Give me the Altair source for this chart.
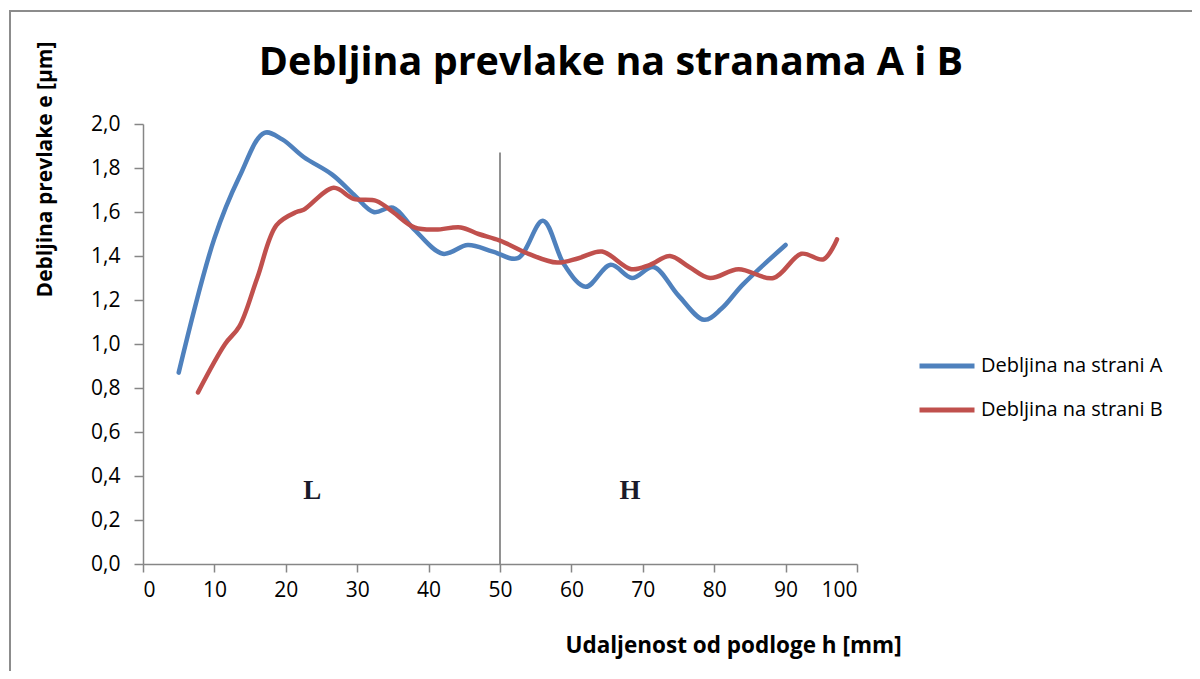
import altair as alt
import pandas as pd

# Series A (blue)
a_x = [5, 10, 13.5, 17, 19.5, 22.5, 26.5, 29.5, 32.3, 35, 38, 42, 45.5, 49, 52.5, 56, 59, 62, 65.5, 68.5, 71.5, 75, 78.6, 81, 84, 90]
a_y = [0.87, 1.48, 1.76, 1.96, 1.93, 1.85, 1.77, 1.68, 1.60, 1.62, 1.52, 1.41, 1.45, 1.42, 1.39, 1.56, 1.36, 1.26, 1.36, 1.30, 1.35, 1.22, 1.11, 1.16, 1.27, 1.45]
# Series B (red)
b_x = [7.7, 11.5, 13.5, 16, 18.7, 21.5, 22.5, 26.7, 29.5, 32.7, 35, 38, 41, 44.5, 47, 50, 54, 58, 61, 64.3, 68.4, 71, 73.8, 76.5, 79.4, 83.4, 88.3, 92.2, 95.3, 97.2]
b_y = [0.78, 1.00, 1.08, 1.30, 1.54, 1.60, 1.61, 1.71, 1.66, 1.65, 1.60, 1.53, 1.52, 1.53, 1.50, 1.47, 1.41, 1.37, 1.39, 1.42, 1.34, 1.36, 1.40, 1.35, 1.30, 1.34, 1.30, 1.41, 1.385, 1.476]

series_names = ["Debljina na strani A", "Debljina na strani B"]
series_colors = ["#4F81BD", "#C0504D"]

region_labels = ["L", "H"]
region_x = [23.7, 68.2]
region_y = [0.33, 0.33]

divider_x = [50]
divider_top = [1.87]

title_text = "Debljina prevlake na stranama A i B"

rows = []
for i, (x, y) in enumerate(zip(a_x, a_y)):
    rows.append({"h": x, "e": y, "serija": series_names[0], "o": i})
for i, (x, y) in enumerate(zip(b_x, b_y)):
    rows.append({"h": x, "e": y, "serija": series_names[1], "o": i})
df = pd.DataFrame(rows)

FONT = "Open Sans"
AXIS_GRAY = "#868686"

xscale = alt.Scale(domain=[0, 100], nice=False, zero=False)
yscale = alt.Scale(domain=[0, 2.0], nice=False)

lines = alt.Chart(df).mark_line(strokeWidth=4.5, interpolate="catmull-rom", strokeCap="round").encode(
    x=alt.X("h:Q", scale=xscale,
            axis=alt.Axis(values=list(range(0, 101, 10)), title="Udaljenost od podloge h [mm]",
                          titleX=590, titleY=81, titleAlign="center", titleBaseline="middle",
                          titleFont=FONT, titleFontSize=22.5, titleFontWeight="bold", titleColor="#000",
                          labelFont=FONT, labelFontSize=21, labelColor="#000", labelPadding=7,
                          tickSize=8, tickColor=AXIS_GRAY, tickWidth=1.5, domainColor=AXIS_GRAY,
                          domainWidth=1.5, grid=False)),
    y=alt.Y("e:Q", scale=yscale,
            axis=alt.Axis(values=[0, 0.2, 0.4, 0.6, 0.8, 1.0, 1.2, 1.4, 1.6, 1.8, 2.0],
                          labelExpr="replace(format(datum.value, '.1f'), '.', ',')",
                          title="Debljina prevlake e [µm]",
                          titleX=-98, titleY=45, titleAngle=270, titleAlign="center", titleBaseline="middle",
                          titleFont=FONT, titleFontSize=21, titleFontWeight="bold", titleColor="#000",
                          labelFont=FONT, labelFontSize=21, labelColor="#000", labelPadding=14,
                          tickSize=9, tickColor=AXIS_GRAY, tickWidth=1.5, domainColor=AXIS_GRAY,
                          domainWidth=1.5, grid=False)),
    color=alt.Color("serija:N", scale=alt.Scale(domain=series_names, range=series_colors),
                    legend=alt.Legend(title=None, orient="none", legendX=774, legendY=212,
                                      symbolType="stroke", symbolSize=3025, symbolStrokeWidth=5,
                                      labelFont=FONT, labelFontSize=20, labelColor="#000", labelLimit=0,
                                      labelOffset=4, rowPadding=4, padding=0)),
    order="o:Q",
)

div_df = pd.DataFrame({"h": divider_x, "top": divider_top, "bot": [0]})
divider = alt.Chart(div_df).mark_rule(color=AXIS_GRAY, strokeWidth=1.8).encode(
    x="h:Q", y="bot:Q", y2="top:Q"
)

lab_df = pd.DataFrame({"h": region_x, "e": region_y, "t": region_labels})
labels = alt.Chart(lab_df).mark_text(font="Liberation Serif", fontSize=27, fontWeight="bold",
                                     color="#1a1a2a", align="center", baseline="middle").encode(
    x="h:Q", y="e:Q", text="t:N"
)

border = alt.Chart(pd.DataFrame({"k": [0]})).mark_rect(fill=None, stroke="#8c8c8c", strokeWidth=2).encode(
    x=alt.value(-133), x2=alt.value(1200), y=alt.value(-113), y2=alt.value(700)
)

title = alt.Chart(pd.DataFrame({"t": [title_text]})).mark_text(
    font=FONT, fontSize=39.5, fontWeight="bold", color="#000", align="center", baseline="alphabetic"
).encode(x=alt.value(468), y=alt.value(-49), text="t:N")

chart = alt.layer(border, divider, lines, labels, title).properties(
    width=714, height=440,
    background="white",
    autosize=alt.AutoSizeParams(type="none"),
    padding={"left": 135, "top": 116, "right": 335, "bottom": 107},
).configure_view(strokeWidth=0)

chart.save("out.html", embed_options={"renderer": "svg", "actions": False})
